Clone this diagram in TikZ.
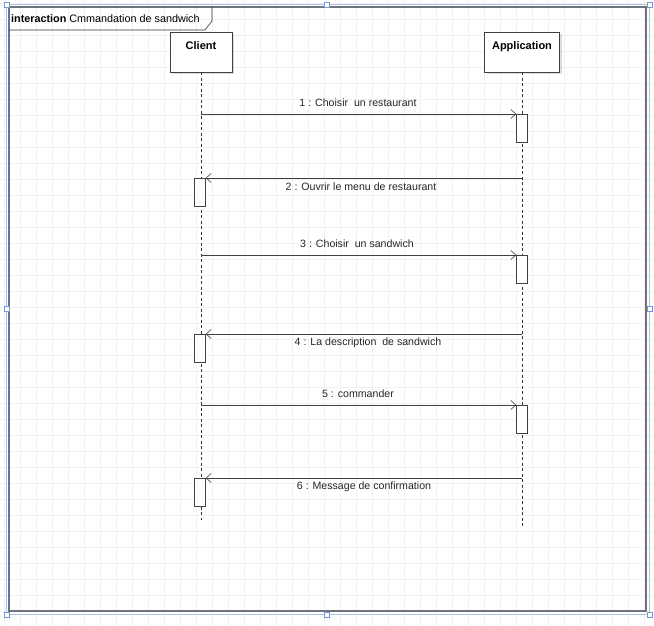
\documentclass[tikz,border=0pt]{standalone}
\usepackage{fontspec}
\setmainfont{Liberation Sans}
\usetikzlibrary{arrows.meta,shadows}
\definecolor{selblue}{RGB}{120,150,215}
\definecolor{gridc}{RGB}{240,241,245}
\definecolor{framec}{RGB}{110,115,125}
\tikzset{
  lifebox/.style={draw=black!75,fill=white,minimum width=62pt,minimum height=40pt,
    text depth=0pt,inner sep=0pt,font=\fontsize{11}{12}\selectfont\bfseries,
    drop shadow={shadow xshift=2pt,shadow yshift=-2pt,fill=black!25},anchor=north},
  act/.style={draw=black!75,fill=white,minimum width=11pt,minimum height=28pt,inner sep=0pt,anchor=north},
  lifeline/.style={draw=black!80,dashed,dash pattern=on 3pt off 2.5pt,line width=0.5pt},
  msg/.style={draw=black!75,line width=0.8pt,-{Straight Barb[length=5pt,width=9pt,line width=0.6pt]}},
  lbl/.style={font=\fontsize{10.6}{12}\selectfont,text=black!85,inner sep=0pt},
  handle/.style={draw=selblue,fill=white,line width=0.8pt,minimum size=5pt,inner sep=0pt}
}
\begin{document}
\begin{tikzpicture}[x=1pt,y=-1pt]
\useasboundingbox (0,0) rectangle (654,625);
\fill[white] (0,0) rectangle (654,625);
% grid
\foreach \gx in {4,20,...,654} \draw[gridc,line width=0.4pt] (\gx,0) -- (\gx,625);
\foreach \gy in {3,19,...,625} \draw[gridc,line width=0.4pt] (0,\gy) -- (654,\gy);
% selection outline
\draw[selblue!60,line width=1pt] (6.5,4.5) rectangle (649.5,614.5);
% frame
\draw[framec,line width=1.2pt] (9,7) rectangle (646,611);
\node[handle] (h1) at (6.5,309) {};
\node[handle] (h2) at (649.5,309) {};
\node[handle] (h3) at (327,614.5) {};
\node[handle] (h4) at (6.5,614.5) {};
\node[handle] (h5) at (649.5,614.5) {};
\node[handle] (h6) at (6.5,4.5) {};
\node[handle] (h7) at (327,4.5) {};
\node[handle] (h8) at (649.5,4.5) {};
% header
\draw[black!80,line width=0.6pt] (9,30) -- (205,30) -- (212,21) -- (212,7);
\node[anchor=west,inner sep=0pt,font=\fontsize{10.8}{12}\selectfont] (title) at (11,19)
  {\textbf{interaction} Cmmandation de sandwich};
% lifeline heads
\node[lifebox] (client) at (201,32) {\raisebox{14pt}{Client}};
\node[lifebox,minimum width=75pt] (app) at (522,32) {\raisebox{14pt}{Application}};
\coordinate (cend) at (201,520);
\coordinate (aend) at (522,526);
\draw[lifeline] (client.south) -- (cend);
\draw[lifeline] (app.south) -- (aend);
% activations
\node[act] (a1) at (522,114) {};
\node[act] (c2) at (200,178) {};
\node[act] (a3) at (522,255) {};
\node[act] (c4) at (200,334) {};
\node[act] (a5) at (522,405) {};
\node[act] (c6) at (200,478) {};
% message start points
\coordinate (s1) at (201,114);
\coordinate (s2) at (522,178);
\coordinate (s3) at (201,255);
\coordinate (s4) at (522,334);
\coordinate (s5) at (201,405);
\coordinate (s6) at (522,478);
\draw[msg] (s1) -- (a1.north west);
\draw[msg] (s2) -- (c2.north east);
\draw[msg] (s3) -- (a3.north west);
\draw[msg] (s4) -- (c4.north east);
\draw[msg] (s5) -- (a5.north west);
\draw[msg] (s6) -- (c6.north east);
% labels
\node[lbl] (l1) at (358,103) {1 : Choisir\ \ un restaurant};
\node[lbl] (l2) at (361,187) {2 : Ouvrir le menu de restaurant};
\node[lbl] (l3) at (357,244) {3 : Choisir\ \ un sandwich};
\node[lbl] (l4) at (368,343) {4 : La description\ \ de sandwich};
\node[lbl] (l5) at (358,394) {5 : commander};
\node[lbl] (l6) at (364,487) {6 : Message de confirmation};
\end{tikzpicture}
\end{document}
